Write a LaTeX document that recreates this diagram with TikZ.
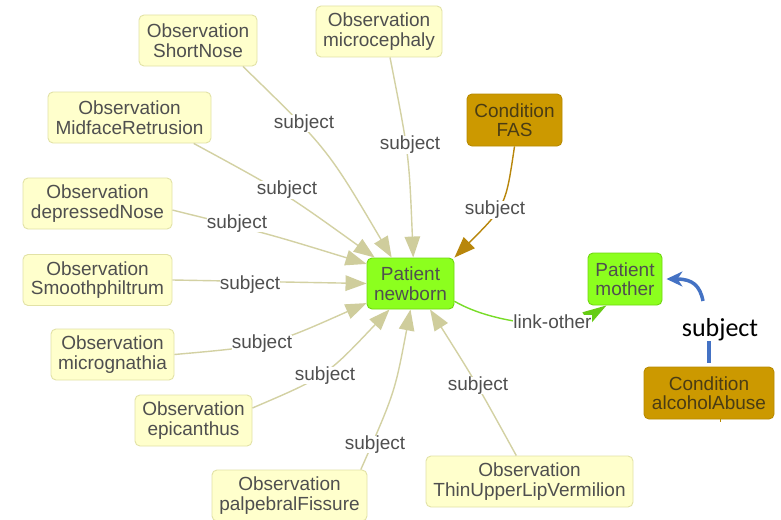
\documentclass[tikz,border=0pt]{standalone}
\usepackage{fontspec}
\setmainfont{Liberation Sans}
\newfontfamily\notefont{Carlito}
\usetikzlibrary{arrows.meta}

\definecolor{obsfill}{HTML}{FFFFCC}
\definecolor{obsline}{HTML}{E2E2A6}
\definecolor{subjline}{HTML}{D3D1A3}
\definecolor{subjhead}{HTML}{CFCD9C}
\definecolor{patfill}{HTML}{8CFF1E}
\definecolor{patline}{HTML}{70D612}
\definecolor{condfill}{HTML}{CC9900}
\definecolor{condline}{HTML}{B88A00}
\definecolor{condedge}{HTML}{B8860B}
\definecolor{linkline}{HTML}{78DC28}
\definecolor{linkhead}{HTML}{66CC14}
\definecolor{notelink}{HTML}{4472C4}
\definecolor{inktext}{HTML}{4F4F4F}
\definecolor{condtext}{HTML}{4A3C14}

\tikzset{
  card/.style={rectangle, rounded corners=5pt, line width=0.9pt, align=center,
    font=\fontsize{19}{19.5}\selectfont, text=inktext, inner sep=0pt, minimum height=51pt},
  obs/.style={card, fill=obsfill, draw=obsline},
  pat/.style={card, fill=patfill, draw=patline},
  cond/.style={card, fill=condfill, draw=condline, text=condtext},
  subj/.style={draw=subjline, line width=1.4pt, -{Triangle[length=21pt,width=15.5pt,color=subjhead]}},
  fasedge/.style={draw=condedge, line width=1.4pt, -{Triangle[length=21pt,width=15.5pt]}},
  lnk/.style={draw=linkline, line width=1.4pt, -{Triangle[length=24pt,width=14pt,color=linkhead]}},
  elabel/.style={font=\fontsize{19}{19}\selectfont, text=inktext, fill=white, inner sep=0pt},
  note/.style={draw=notelink, line width=3.5pt},
}

\begin{document}
\begin{tikzpicture}[x=1pt, y=-1pt]
\useasboundingbox[fill=white] (0,0) rectangle (781,519);

% resources
\node[obs, minimum width=118pt] (sn) at (198,40.5) {Observation\\ShortNose};
\node[obs, minimum width=126pt] (mc) at (379,31.5) {Observation\\microcephaly};
\node[obs, minimum width=163pt] (mr) at (129.5,117.5) {Observation\\MidfaceRetrusion};
\node[obs, minimum width=149pt] (dn) at (97.5,203.5) {Observation\\depressedNose};
\node[obs, minimum width=149pt] (sp) at (97.5,280) {Observation\\Smoothphiltrum};
\node[obs, minimum width=123pt] (mg) at (112.5,354.5) {Observation\\micrognathia};
\node[obs, minimum width=117pt] (ep) at (193.5,420.5) {Observation\\epicanthus};
\node[obs, minimum width=155pt] (pf) at (289.5,495.5) {Observation\\palpebralFissure};
\node[obs, minimum width=207pt] (tl) at (529.5,481.5) {Observation\\ThinUpperLipVermilion};
\node[cond, minimum width=95pt, minimum height=52pt] (fas) at (514.5,120) {Condition\\FAS};
\node[pat, minimum width=87pt] (nb) at (410.5,283.5) {Patient\\newborn};
\node[pat, minimum width=74pt, minimum height=52pt] (mo) at (625,279) {Patient\\mother};
\node[cond, minimum width=130pt, minimum height=52pt] (aa) at (709,393) {Condition\\alcoholAbuse};

% subject references into the newborn
\draw[subj] (sn.330.5) .. controls (327.5,148.7) .. (nb.126);
\draw[subj] (mc.293.3) .. controls (409,154) .. (nb.84.4);
\draw[subj] (mr.338.7) .. controls (285,193) .. (nb.144.3);
\draw[subj] (dn.355) .. controls (269,234) .. (nb.156.9);
\draw[subj] (sp.east) -- (nb.west);
\draw[subj] (mg.east) .. controls (270,346) .. (nb.204.1);
\draw[subj] (ep.12.1) .. controls (326,376.5) .. (nb.231.2);
\draw[subj] (pf.20.4) .. controls (394.7,392.8) .. (nb.270);
\draw[subj] (tl.117.9) .. controls (475.7,381.9) .. (nb.307.4);
\draw[fasedge] (fas.south) .. controls (505.7,206) .. (nb.north east);
\draw[lnk] (nb.338.8) .. controls (495,325) and (568,330) .. (mo.235.3);

% edge labels
\node[elabel] (l1) at (304,123.5) {subject};
\node[elabel] (l2) at (410,145) {subject};
\node[elabel] (l3) at (287,190) {subject};
\node[elabel] (l4) at (237,223.5) {subject};
\node[elabel] (l5) at (250,284.5) {subject};
\node[elabel] (l6) at (262,344) {subject};
\node[elabel] (l7) at (325,375.5) {subject};
\node[elabel] (l8) at (375,444.5) {subject};
\node[elabel] (l9) at (478,385.5) {subject};
\node[elabel] (l10) at (495,210) {subject};
\node[elabel] (l11) at (552.5,322) {link-other};

% hand-drawn subject link from the alcohol condition to the mother
\node[font={\notefont\fontsize{26}{28}\selectfont}, text=black, inner sep=0pt] (note) at (720,330) {subject};
\coordinate (noteB) at (703,301);
\draw[note] ([yshift=4pt]aa.north) -- (aa.north |- note.south);
\draw[note, -{Stealth[length=16pt,width=15pt,inset=5pt]}] (noteB) .. controls (700,286) and (693,279) .. ([xshift=4pt]mo.east);

% stub of a hidden reference below the alcohol condition
\draw[condline, line width=1pt] ([xshift=11pt]aa.south) -- ++(0,3);
\end{tikzpicture}
\end{document}
